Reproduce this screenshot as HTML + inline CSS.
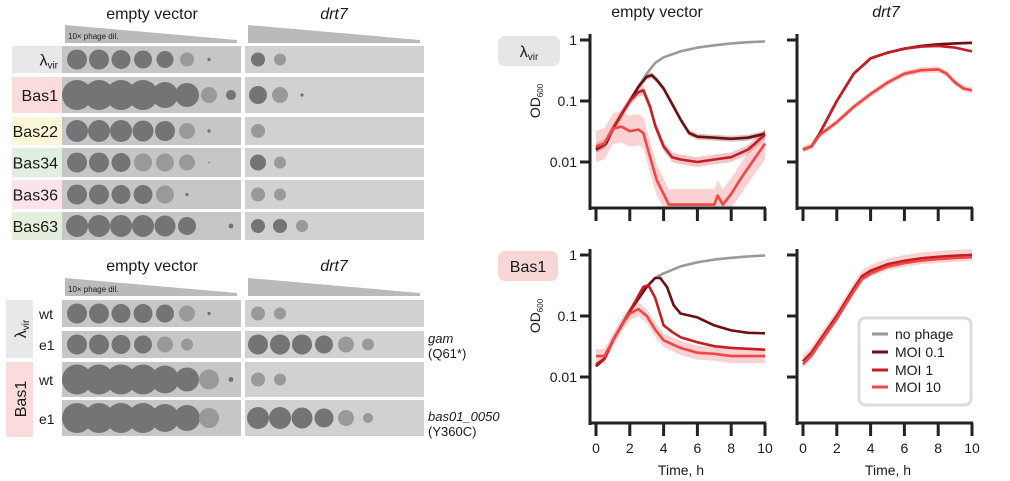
<!DOCTYPE html>
<html><head><meta charset="utf-8"><style>
html,body{margin:0;padding:0;background:#fff}
svg{display:block;font-family:"Liberation Sans",Arial,sans-serif}
svg text{font-family:"Liberation Sans",Arial,sans-serif !important;fill:#1a1a1a}
</style></head><body>
<svg id="s" width="1010" height="481" viewBox="0 0 1010 481" xmlns="http://www.w3.org/2000/svg" font-family="Liberation Sans, Arial, sans-serif">
<text x="152" y="19" font-size="16" text-anchor="middle">empty vector</text>
<text x="334" y="19" font-size="16" text-anchor="middle" font-style="italic">drt7</text>
<polygon points="65,25 237,40 237,43 65,43" fill="#b9babc"/>
<polygon points="248,25 420,40 420,43 248,43" fill="#b9babc"/>
<text x="68" y="39" font-size="8">10× phage dil.</text>
<g id="topplates"></g>
<text x="152" y="271" font-size="16" text-anchor="middle">empty vector</text>
<text x="334" y="271" font-size="16" text-anchor="middle" font-style="italic">drt7</text>
<polygon points="65,278 237,293 237,296 65,296" fill="#b9babc"/>
<polygon points="248,278 420,293 420,296 248,296" fill="#b9babc"/>
<text x="68" y="292" font-size="8">10× phage dil.</text>
<rect x="6" y="300" width="27" height="58" fill="#e8e8ea"/>
<rect x="6" y="362" width="27" height="75" fill="#fadcdc"/>
<text transform="translate(26,329) rotate(-90)" font-size="16" text-anchor="middle">λ<tspan font-size="10" dy="3">vir</tspan></text>
<text transform="translate(26,399) rotate(-90)" font-size="16" text-anchor="middle">Bas1</text>
<text x="39" y="319" font-size="14">wt</text>
<text x="39" y="350" font-size="14">e1</text>
<text x="39" y="385" font-size="14">wt</text>
<text x="39" y="424" font-size="14">e1</text>
<text x="428" y="343" font-size="13" font-style="italic">gam</text>
<text x="428" y="358" font-size="13">(Q61*)</text>
<text x="428" y="421" font-size="13" font-style="italic">bas01_0050</text>
<text x="428" y="436" font-size="13">(Y360C)</text>
<g id="botplates"></g>
<text x="657" y="17" font-size="16" text-anchor="middle">empty vector</text>
<text x="886" y="17" font-size="16" text-anchor="middle" font-style="italic">drt7</text>
<rect x="498" y="36" width="62" height="30" rx="7" fill="#e6e6e8"/>
<text x="529" y="57" font-size="16" text-anchor="middle">λ<tspan font-size="10" dy="3">vir</tspan></text>
<rect x="498" y="251" width="60" height="30" rx="7" fill="#f9d6d6"/>
<text x="528" y="272" font-size="16" text-anchor="middle">Bas1</text>
<text transform="translate(540,101) rotate(-90)" font-size="14" text-anchor="middle">OD<tspan font-size="8" dy="3">600</tspan></text>
<text transform="translate(540,316) rotate(-90)" font-size="14" text-anchor="middle">OD<tspan font-size="8" dy="3">600</tspan></text>
<g id="charts"></g>
<g font-size="14">
<text x="681" y="475" text-anchor="middle">Time, h</text>
<text x="888" y="475" text-anchor="middle">Time, h</text>
</g>
<rect x="859" y="318" width="112" height="87" rx="6" fill="#fff" stroke="#dcdcdc" stroke-width="3"/>
<g stroke-width="3">
<line x1="872" y1="334" x2="888" y2="334" stroke="#9a9a9a"/>
<line x1="872" y1="352" x2="888" y2="352" stroke="#6b0f12"/>
<line x1="872" y1="370" x2="888" y2="370" stroke="#c41e24"/>
<line x1="872" y1="387" x2="888" y2="387" stroke="#f04646"/>
</g>
<g font-size="14">
<text x="895" y="339">no phage</text>
<text x="895" y="357">MOI 0.1</text>
<text x="895" y="375">MOI 1</text>
<text x="895" y="392">MOI 10</text>
</g>
</svg>
<script>
var NS="http://www.w3.org/2000/svg";
function el(p,t,a){var e=document.createElementNS(NS,t);for(var k in a)e.setAttribute(k,a[k]);p.appendChild(e);return e;}
function txt(p,a,s){var e=el(p,"text",a);e.textContent=s;return e;}
var tp=document.getElementById("topplates");
var rows=[["λ",46,73,"#e8e8ea",[10,10,9.5,9,8.5,-7,2,0],[7,-6,0,0,0,0,0,0]],
["Bas1",77,113,"#fadcdc",[15,15,15,15,13,12,-8,5],[9,-8,2,0,0,0,0,0]],
["Bas22",117,145,"#fbf6d8",[11,11,11,10.5,10,-8,2,0],[-7,0,0,0,0,0,0,0]],
["Bas34",148,177,"#e0efe0",[10,10,9.5,-9,-9,-8,1,0],[8,-6,0,0,0,0,0,0]],
["Bas36",180,209,"#fbe3ee",[10,10,9.5,9.5,-9,2,0,0],[-7,-6,0,0,0,0,0,0]],
["Bas63",212,240,"#e3eedc",[11,11,11,11,10.5,9,0,3],[7,7,-6,0,0,0,0,0]]];
function spots(g,x0,y,arr){for(var i=0;i<arr.length;i++){var r=arr[i];if(!r)continue;var cx=x0+i*22;
 if(Math.abs(r)<=3){el(g,"circle",{cx:cx,cy:y,r:r*0.8,fill:"#707173"});continue;}
 el(g,"circle",{cx:cx,cy:y,r:Math.abs(r),fill:r<0?"#98999b":"#737476"});}}
function plate(g,x,y1,y2,c){el(g,"rect",{x:x,y:y1,width:179,height:y2-y1,fill:c});}
rows.forEach(function(r){
 el(tp,"rect",{x:12,y:r[1],width:50,height:r[2]-r[1],fill:r[3]});
 var cy=(r[1]+r[2])/2;
 if(r[0]=="λ"){var t=el(tp,"text",{x:58,y:cy+6,"font-size":16,"text-anchor":"end"});t.appendChild(document.createTextNode("λ"));var ts=el(t,"tspan",{"font-size":10,dy:3});ts.textContent="vir";}
 else txt(tp,{x:58,y:cy+6,"font-size":16,"text-anchor":"end"},r[0]);
 plate(tp,62,r[1],r[2],"#c5c6c8");plate(tp,245,r[1],r[2],"#d0d1d3");
 spots(tp,77,cy,r[4]);spots(tp,258,cy,r[5]);
});
var bp=document.getElementById("botplates");
var brows=[[300,327,[10,10,9.5,9.5,9,-8,2,0],[-7,-6,0,0,0,0,0,0]],
[331,358,[10,10,9.5,9,-8,-6,0,0],[10,10,10,9,-8,-6,0,0]],
[362,397,[15,15,15,15,14,12,-10,3],[-7,-6,0,0,0,0,0,0]],
[400,436,[15,15,15,15,14,13,-10,0],[11,11,10.5,9.5,-8,-5,0,0]]];
brows.forEach(function(r){var cy=(r[0]+r[1])/2;plate(bp,62,r[0],r[1],"#c5c6c8");plate(bp,245,r[0],r[1],"#d0d1d3");spots(bp,77,cy,r[2]);spots(bp,258,cy,r[3]);});
var ch=document.getElementById("charts");
var C={np:"#9a9a9a",m01:"#6b0f12",m1:"#c41e24",m10:"#f04646"};
function chart(ax,x0,y1,dots,series,bands,showY){
 var X=function(t){return x0+16.9*t},Y=function(o){return y1-61*Math.log10(o)};
 var yb=y1+168;
 (bands||[]).forEach(function(b){var up=b.d.map(function(p){return X(p[0])+","+Y(p[1]*b.f)}),dn=b.d.slice().reverse().map(function(p){return X(p[0])+","+Math.min(yb,Y(p[1]/b.f))});
  el(ch,"polygon",{points:up.concat(dn).join(" "),fill:b.c,opacity:0.25});});
 series.forEach(function(s){el(ch,"polyline",{points:s.d.map(function(p){return X(p[0]).toFixed(1)+","+Math.min(yb-3,Y(p[1])).toFixed(1)}).join(" "),fill:"none",stroke:s.c,"stroke-width":2.6,"stroke-linejoin":"round"});});
 el(ch,"line",{x1:ax,y1:y1-6,x2:ax,y2:yb+2,stroke:"#222","stroke-width":3});
 el(ch,"line",{x1:ax-1.5,y1:yb,x2:x0+170,y2:yb,stroke:"#222","stroke-width":3});
 [0,1,2].forEach(function(i){el(ch,"line",{x1:ax-10,y1:y1+61*i,x2:ax,y2:y1+61*i,stroke:"#222","stroke-width":3});
  if(showY)txt(ch,{x:ax-13,y:y1+61*i+5,"font-size":14,"text-anchor":"end"},["1","0.1","0.01"][i]);});
 for(var t=0;t<=10;t+=2){el(ch,"line",{x1:X(t),y1:yb,x2:X(t),y2:yb+13,stroke:"#222","stroke-width":3});
  if(dots)txt(ch,{x:X(t),y:yb+30,"font-size":14,"text-anchor":"middle"},""+t);}
}
var npT=[[0,0.016],[0.5,0.02],[1,0.035],[1.5,0.06],[2,0.1],[2.5,0.17],[3,0.28],[3.5,0.42],[4,0.52],[5,0.65],[6,0.75],[7,0.82],[8,0.88],[9,0.92],[10,0.95]];
var A01=[[0,0.016],[0.3,0.018],[0.6,0.02],[1,0.035],[1.5,0.06],[2,0.1],[2.5,0.17],[3,0.25],[3.3,0.265],[3.6,0.22],[4,0.16],[4.5,0.09],[5,0.05],[5.5,0.03],[6,0.026],[7,0.025],[8,0.024],[9,0.025],[10,0.029]];
var A1=[[0,0.017],[0.5,0.02],[1,0.035],[1.5,0.06],[2,0.1],[2.5,0.14],[2.8,0.15],[3.2,0.08],[3.5,0.04],[4,0.018],[4.5,0.012],[5,0.011],[6,0.01],[7,0.011],[8,0.012],[9,0.016],[10,0.028]];
var A10=[[0,0.018],[0.5,0.02],[1,0.035],[1.5,0.038],[2,0.032],[2.5,0.034],[2.8,0.03],[3.2,0.012],[3.6,0.005],[4,0.003],[4.3,0.002],[7,0.002],[7.2,0.0028],[7.5,0.002],[8,0.003],[8.5,0.005],[9,0.008],[10,0.02]];
chart(590,596,40,false,[{c:C.np,d:npT},{c:C.m01,d:A01},{c:C.m1,d:A1},{c:C.m10,d:A10}],
 [{c:C.m01,f:1.12,d:A01},{c:C.m1,f:1.2,d:A1},{c:C.m10,f:1.8,d:A10}],true);
var Dn=[[0,0.016],[0.5,0.018],[1,0.03],[2,0.1],[3,0.28],[4,0.5],[5,0.62],[6,0.72],[7,0.8],[8,0.85],[9,0.88],[10,0.9]];
var D1=[[0,0.016],[0.5,0.018],[1,0.03],[2,0.1],[3,0.28],[4,0.5],[5,0.62],[6,0.72],[7,0.78],[8,0.8],[9,0.75],[10,0.65]];
var D10=[[0,0.016],[0.5,0.018],[1,0.028],[2,0.045],[3,0.08],[4,0.13],[5,0.2],[6,0.28],[7,0.32],[8,0.33],[8.5,0.28],[9,0.2],[9.5,0.16],[10,0.15]];
chart(797,803,40,false,[{c:C.np,d:Dn},{c:C.m01,d:Dn},{c:C.m1,d:D1},{c:C.m10,d:D10}],[{c:C.m10,f:1.12,d:D10}],false);
var npB=[[0,0.015],[0.5,0.02],[1,0.04],[2,0.12],[3,0.3],[3.5,0.42],[4,0.5],[5,0.65],[6,0.76],[7,0.84],[8,0.9],[9,0.95],[10,0.98]];
var B01=[[0,0.015],[0.5,0.02],[1,0.04],[2,0.12],[3,0.3],[3.5,0.42],[3.8,0.42],[4.2,0.3],[4.6,0.15],[5,0.11],[6,0.095],[7,0.07],[8,0.058],[9,0.053],[10,0.052]];
var B1=[[0,0.016],[0.5,0.02],[1,0.04],[2,0.12],[2.8,0.3],[3.1,0.32],[3.5,0.2],[4,0.07],[4.5,0.055],[5,0.045],[6,0.037],[7,0.032],[8,0.03],[9,0.029],[10,0.028]];
var B10=[[0,0.022],[0.5,0.022],[1,0.04],[1.5,0.07],[2,0.11],[2.5,0.13],[3,0.1],[3.5,0.06],[4,0.04],[5,0.03],[6,0.025],[7,0.024],[8,0.022],[9,0.022],[10,0.022]];
chart(590,596,255,true,[{c:C.np,d:npB},{c:C.m01,d:B01},{c:C.m1,d:B1},{c:C.m10,d:B10}],[{c:C.m10,f:1.3,d:B10}],true);
var E=[[0,0.018],[0.5,0.025],[1,0.04],[2,0.1],[3,0.28],[3.5,0.45],[4,0.55],[5,0.7],[6,0.8],[7,0.88],[8,0.93],[9,0.97],[10,1.0]];
var E2=E.map(function(p){return [p[0],p[1]*(p[0]>4?0.92:0.9)]});
chart(797,803,255,true,[{c:C.np,d:E},{c:C.m01,d:E},{c:C.m1,d:E},{c:C.m10,d:E2}],[{c:C.m10,f:1.25,d:E}],false);
</script>
</body></html>
